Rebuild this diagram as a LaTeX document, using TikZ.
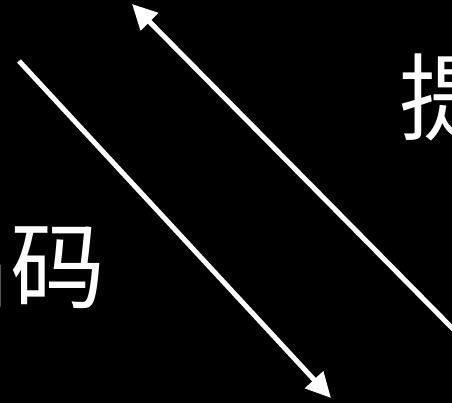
\documentclass[tikz,border=0pt]{standalone}
\usepackage{fontspec}
\newfontfamily\cjk{Noto Sans CJK SC}
\usetikzlibrary{arrows.meta}
\begin{document}
\begin{tikzpicture}[x=1pt,y=-1pt,
  bigtext/.style={text=white,inner sep=0pt,font=\cjk\fontsize{95pt}{100pt}\selectfont},
  arrowline/.style={draw=white,line width=5pt,-{Triangle[length=25pt,width=24pt]}}]
\useasboundingbox (0,0) rectangle (452,403);
\fill[black] (0,0) rectangle (452,403);
\clip (0,0) rectangle (452,403);
\node[bigtext] (leftA) at (-40,268) {编};
\node[bigtext] (leftB) at (58,268) {码};
\node[bigtext] (right) at (447,97) {提};
\coordinate (a1s) at (19,61);
\coordinate (a1e) at (331,398);
\coordinate (a2s) at (460,336);
\coordinate (a2e) at (132,4);
\draw[arrowline] (a1s) -- (a1e);
\draw[arrowline] (a2s) -- (a2e);
\end{tikzpicture}
\end{document}
